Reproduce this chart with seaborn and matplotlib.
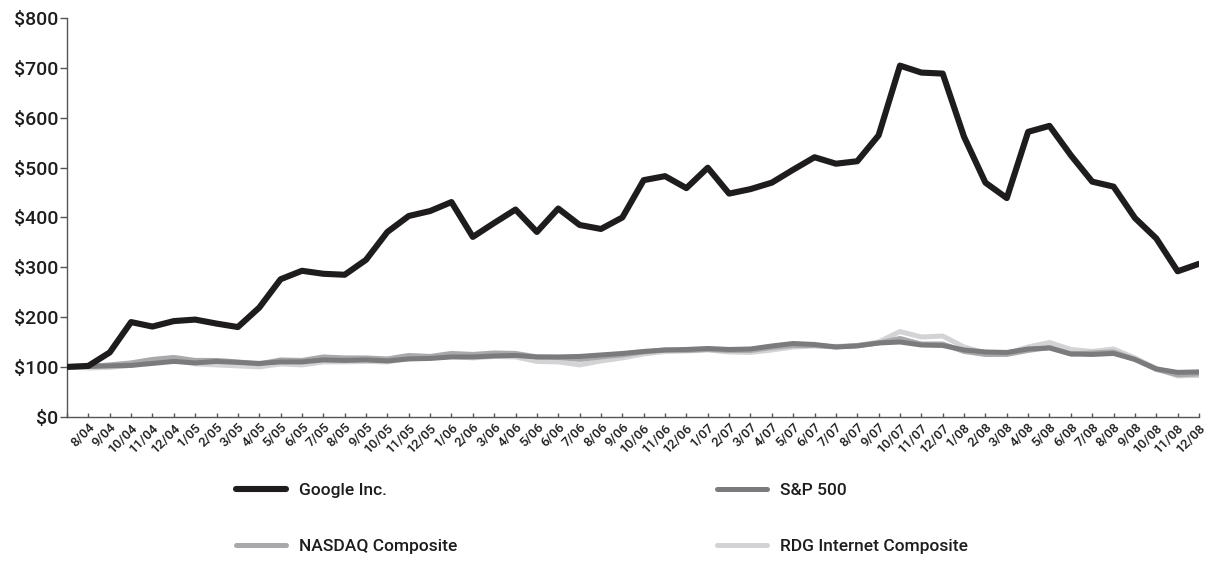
import numpy as np
import pandas as pd
import matplotlib
matplotlib.use("Agg")
import matplotlib.pyplot as plt
import seaborn as sns

# month-end labels (first point = start date at the axis, unlabeled)
months = ["", "8/04", "9/04", "10/04", "11/04", "12/04",
          "1/05", "2/05", "3/05", "4/05", "5/05", "6/05", "7/05", "8/05", "9/05", "10/05", "11/05", "12/05",
          "1/06", "2/06", "3/06", "4/06", "5/06", "6/06", "7/06", "8/06", "9/06", "10/06", "11/06", "12/06",
          "1/07", "2/07", "3/07", "4/07", "5/07", "6/07", "7/07", "8/07", "9/07", "10/07", "11/07", "12/07",
          "1/08", "2/08", "3/08", "4/08", "5/08", "6/08", "7/08", "8/08", "9/08", "10/08", "11/08", "12/08"]

google = [100, 102, 129, 190, 181, 192, 195, 187, 180, 219, 276, 293, 287, 285, 315, 371, 403, 413,
          431, 361, 389, 416, 371, 418, 385, 377, 400, 475, 483, 459, 500, 448, 457, 470, 496, 521,
          508, 513, 565, 705, 691, 689, 562, 470, 439, 572, 584, 525, 472, 462, 399, 358, 292, 307]
sp500 = [100, 101, 102, 103, 107, 111, 108, 111, 109, 107, 110, 110, 114, 113, 114, 112, 116, 117,
         120, 120, 122, 123, 120, 120, 121, 124, 127, 131, 134, 135, 137, 135, 136, 142, 147, 145,
         140, 142, 148, 150, 144, 143, 134, 130, 129, 136, 138, 126, 125, 127, 115, 96, 89, 90]
nasdaq = [100, 101, 104, 108, 115, 119, 113, 113, 110, 106, 114, 113, 120, 118, 118, 116, 123, 121,
          127, 125, 128, 127, 120, 119, 115, 120, 124, 130, 134, 133, 135, 133, 133, 139, 143, 143,
          140, 143, 148, 157, 146, 146, 131, 125, 125, 133, 139, 126, 128, 130, 115, 95, 84, 86]
rdg = [100, 98, 99, 103, 110, 114, 106, 104, 102, 100, 106, 104, 110, 110, 111, 110, 117, 118,
       121, 118, 121, 120, 111, 110, 104, 112, 118, 126, 131, 132, 134, 130, 129, 134, 140, 142,
       141, 143, 150, 171, 160, 162, 140, 128, 127, 140, 149, 135, 131, 136, 118, 97, 82, 83]

colors = {"Google Inc.": "#1e1c1d", "S&P 500": "#7b7b7d",
          "NASDAQ Composite": "#a9a9ab", "RDG Internet Composite": "#d3d3d5"}
widths = {"Google Inc.": 4.4, "S&P 500": 3.6,
          "NASDAQ Composite": 3.6, "RDG Internet Composite": 3.6}

idx = np.arange(len(months))
df = pd.concat([
    pd.DataFrame({"x": idx, "value": google, "series": "Google Inc."}),
    pd.DataFrame({"x": idx, "value": nasdaq, "series": "NASDAQ Composite"}),
    pd.DataFrame({"x": idx, "value": sp500, "series": "S&P 500"}),
    pd.DataFrame({"x": idx, "value": rdg, "series": "RDG Internet Composite"}),
])

sns.set_style("white")
plt.rcParams["font.family"] = ["Roboto", "DejaVu Sans"]

fig = plt.figure(figsize=(12.08, 5.76), dpi=100)
ax = fig.add_axes([67 / 1208, 1 - 416.7 / 576, (1199 - 67) / 1208, (416.7 - 18.3) / 576])

draw_order = ["RDG Internet Composite", "NASDAQ Composite", "S&P 500", "Google Inc."]
for name in draw_order:
    sub = df[df["series"] == name]
    sns.lineplot(data=sub, x="x", y="value", color=colors[name], lw=widths[name],
                 ax=ax, label=name, solid_joinstyle="round", solid_capstyle="round",
                 zorder=5 if name == "Google Inc." else 3)

ax.set_xlim(0, len(months) - 1)
ax.set_ylim(0, 800)
ax.set_yticks(range(0, 801, 100))
ax.set_yticklabels([f"${v}" for v in range(0, 801, 100)], fontsize=14,
                   fontweight="medium", color="#1e1c1d")
ax.set_xticks(idx)
ax.set_xticklabels(months, rotation=45, ha="right", rotation_mode="anchor",
                   fontsize=9.5, fontweight="medium", color="#1e1c1d")
ax.tick_params(axis="y", direction="out", length=5, width=1, color="#555555", pad=1)
ax.tick_params(axis="x", direction="in", length=3, width=1, color="#555555", pad=3)
ax.tick_params(axis="x", bottom=True)
ax.tick_params(axis="y", left=True)
ax.set_xlabel("")
ax.set_ylabel("")
sns.despine(ax=ax)
for s in ["left", "bottom"]:
    ax.spines[s].set_color("#555555")
    ax.spines[s].set_linewidth(1)

handles, labels = ax.get_legend_handles_labels()
ax.get_legend().remove()
hmap = dict(zip(labels, handles))

leg_kw = dict(frameon=False, fontsize=12.5, handlelength=2.9, handletextpad=0.75,
              labelspacing=2.35, loc="upper left", borderaxespad=0, borderpad=0)
l1 = fig.legend([hmap["Google Inc."], hmap["NASDAQ Composite"]],
                ["Google Inc.", "NASDAQ Composite"],
                bbox_to_anchor=(236 / 1208, 1 - 483 / 576), **leg_kw)
l2 = fig.legend([hmap["S&P 500"], hmap["RDG Internet Composite"]],
                ["S&P 500", "RDG Internet Composite"],
                bbox_to_anchor=(717 / 1208, 1 - 483 / 576), **leg_kw)
for leg in (l1, l2):
    for t in leg.get_texts():
        t.set_color("#1e1c1d")
        t.set_fontweight("medium")

fig.savefig("out.png", dpi=100)
